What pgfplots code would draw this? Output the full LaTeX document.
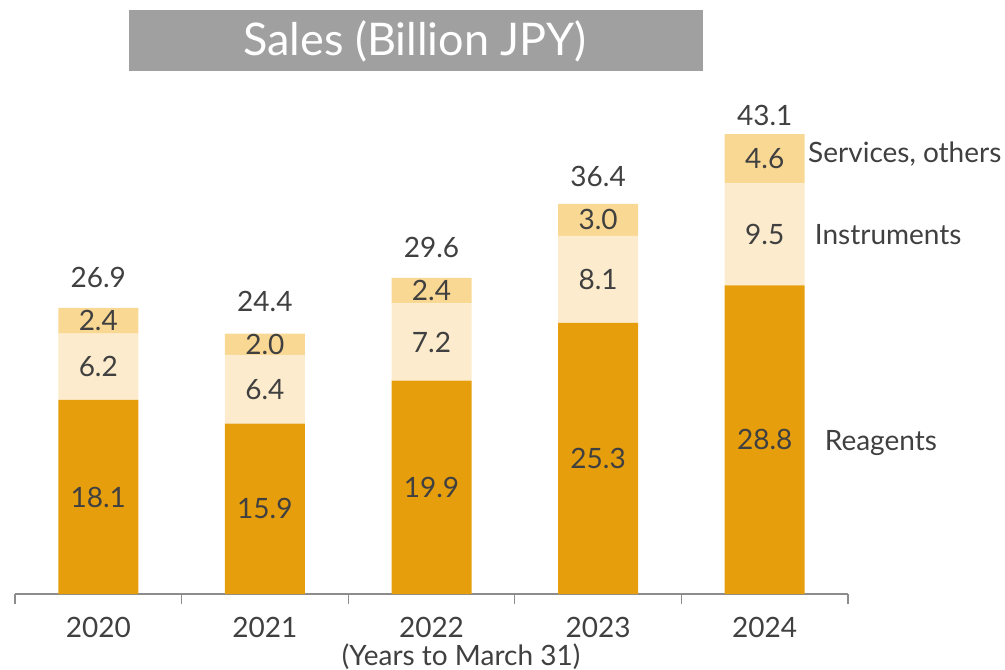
\documentclass[border=0pt]{standalone}
\usepackage{pgfplots}
\pgfplotsset{compat=1.18}
\usepackage{pgfplotstable}
\usepackage{fontspec}
\setmainfont{Lato}
\definecolor{reag}{HTML}{E69E0C}
\definecolor{inst}{HTML}{FCEBCC}
\definecolor{serv}{HTML}{F9D894}
\definecolor{txt}{HTML}{404040}
\definecolor{titlebg}{HTML}{A0A0A0}
\definecolor{axisgray}{HTML}{8C8C8C}

\pgfplotstableread{
x reag inst serv total
0 18.1 6.2 2.4 26.9
1 15.9 6.4 2.0 24.4
2 19.9 7.2 2.4 29.6
3 25.3 8.1 3.0 36.4
4 28.8 9.5 4.6 43.1
}\sales

% segment label positions (middle of each segment)
\pgfplotstableread{
x y lab
0 9.05 18.1
1 7.95 15.9
2 9.95 19.9
3 12.65 25.3
4 14.4 28.8
0 21.2 6.2
1 19.1 6.4
2 23.5 7.2
3 29.35 8.1
4 33.55 9.5
0 25.5 2.4
1 23.3 2.0
2 28.3 2.4
3 34.9 3.0
4 40.65 4.6
}\seglabels

\begin{document}
\begin{tikzpicture}[x=1pt,y=1pt]
\path[use as bounding box] (0,0) rectangle (1005,-670);
% title box
\fill[titlebg] (129,-10) rectangle (703,-71);
\node[text=white,font=\fontsize{45}{50}\selectfont] at (415,-41) {Sales (Billion JPY)};

\begin{axis}[
  at={(15pt,-594pt)}, anchor=south west,
  scale only axis, width=833pt, height=536pt,
  xmin=-0.5, xmax=4.5, ymin=0, ymax=50,
  ybar stacked, bar width=80pt,
  axis x line*=bottom, axis y line=none,
  axis line style={axisgray, line width=1.2pt},
  xtick={0,1,2,3,4},
  xticklabels={2020,2021,2022,2023,2024},
  major tick length=0pt,
  extra x ticks={-0.5,0.5,1.5,2.5,3.5,4.5},
  extra x tick labels={},
  extra x tick style={major tick length=10pt, tick style={axisgray, line width=1.2pt}},
  xtick align=outside,
  xticklabel style={font=\fontsize{28}{32}\selectfont, text=txt, yshift=-20pt},
  clip=false,
]
\addplot[fill=reag, draw=none] table[x=x,y=reag] {\sales};
\addplot[fill=inst, draw=none] table[x=x,y=inst] {\sales};
\addplot[fill=serv, draw=none,
  nodes near coords, point meta=explicit symbolic,
  every node near coord/.style={anchor=center, yshift=43pt, font=\fontsize{28}{32}\selectfont, text=txt}]
  table[x=x,y=serv,meta=total] {\sales};
\end{axis}

\begin{axis}[
  at={(15pt,-594pt)}, anchor=south west,
  scale only axis, width=833pt, height=536pt,
  xmin=-0.5, xmax=4.5, ymin=0, ymax=50,
  hide axis, clip=false,
]
\addplot[draw=none, mark=none,
  nodes near coords, point meta=explicit symbolic,
  every node near coord/.style={anchor=center, font=\fontsize{28}{32}\selectfont, text=txt}]
  table[x=x,y=y,meta=lab] {\seglabels};
\addplot[draw=none, mark=none,
  nodes near coords, point meta=explicit symbolic,
  every node near coord/.style={anchor=west, inner sep=0pt, font=\fontsize{28}{32}\selectfont, text=txt}]
  table[x=x,y=y,meta=lab, col sep=comma] {
x,y,lab
4.26,41.0,{Services, others}
4.30,33.55,Instruments
4.36,14.1,Reagents
};
\end{axis}

\node[font=\fontsize{28}{32}\selectfont, text=txt] at (461,-657) {(Years to March 31)};
\end{tikzpicture}
\end{document}
